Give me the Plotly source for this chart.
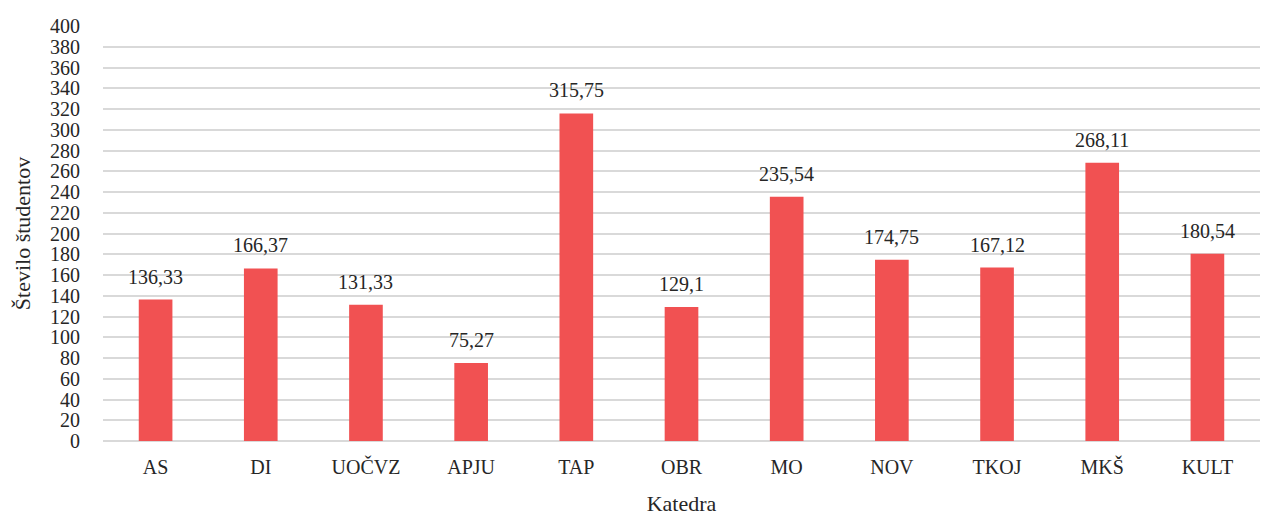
import plotly.graph_objects as go

categories = ["AS", "DI", "UOČVZ", "APJU", "TAP", "OBR", "MO", "NOV", "TKOJ", "MKŠ", "KULT"]
values = [136.33, 166.37, 131.33, 75.27, 315.75, 129.1, 235.54, 174.75, 167.12, 268.11, 180.54]
labels = ["136,33", "166,37", "131,33", "75,27", "315,75", "129,1", "235,54", "174,75", "167,12", "268,11", "180,54"]
y_ticks = list(range(0, 401, 20))

FONT = "Liberation Serif"

fig = go.Figure(go.Bar(
    x=categories, y=values,
    marker=dict(color="#F15152", line=dict(width=0)),
    hoverinfo="x+y",
))
for c, v, t in zip(categories, values, labels):
    fig.add_annotation(x=c, y=v, text=t, showarrow=False, yanchor="bottom",
                       yshift=10, font=dict(family=FONT, size=20, color="#262626"))
fig.update_layout(
    width=1261, height=516,
    margin=dict(l=103, r=1, t=26, b=75),
    paper_bgcolor="white", plot_bgcolor="white",
    bargap=0.68,
    showlegend=False,
    font=dict(family=FONT, size=20, color="#262626"),
)
fig.update_yaxes(
    range=[0, 400], tickvals=y_ticks, showgrid=True, gridcolor="#D9D9D9", gridwidth=1.5,
    zeroline=True, zerolinecolor="#D9D9D9", zerolinewidth=1.5,
    ticks="", ticklabelstandoff=22,
    title=dict(text="Število študentov", font=dict(family=FONT, size=22, color="#262626"), standoff=13),
    tickfont=dict(family=FONT, size=20, color="#262626"),
)
fig.update_xaxes(
    showgrid=False, ticks="", ticklabelstandoff=12,
    title=dict(text="Katedra", font=dict(family=FONT, size=22, color="#262626"), standoff=20),
    tickfont=dict(family=FONT, size=20, color="#262626"),
)
fig.write_html("out.html", config={"displayModeBar": False},
               post_script="document.body.style.margin='0';document.body.style.padding='0';")
